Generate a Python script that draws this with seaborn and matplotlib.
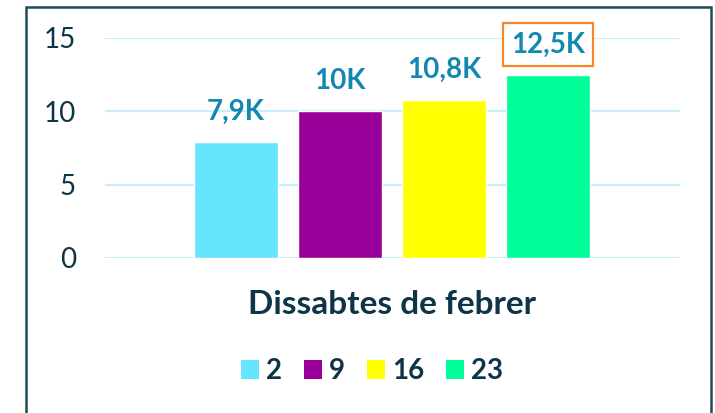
import matplotlib
matplotlib.use("Agg")
import matplotlib.pyplot as plt
from matplotlib.patches import Rectangle, Patch
import seaborn as sns
import pandas as pd

days = ["2", "9", "16", "23"]
visits = [7.9, 10.0, 10.8, 12.5]
labels = ["7,9K", "10K", "10,8K", "12,5K"]
colors = ["#66e5ff", "#990099", "#ffff00", "#00ff99"]
yticks = [0, 5, 10, 15]

sns.set_style("white")
plt.rcParams["font.family"] = ["Lato", "DejaVu Sans"]

DARK = "#0e3447"
LABEL_BLUE = "#1287b0"

fig = plt.figure(figsize=(7.15, 4.13), dpi=100)
ax = fig.add_axes([105 / 715, 1 - 258 / 413, 575 / 715, 220 / 413])

df = pd.DataFrame({"day": days, "visits": visits})
sns.barplot(data=df, x="day", y="visits", hue="day", palette=colors,
            saturation=1, width=0.8, dodge=False, legend=False, ax=ax, zorder=3)

ax.set_xlim(-1.26, 4.27)
ax.set_ylim(0, 15)
ax.set_yticks(yticks)
ax.set_yticklabels([str(t) for t in yticks], fontsize=20, color=DARK)
ax.tick_params(axis="y", length=0, pad=21)
ax.set_xticks([])
ax.set_xlabel("")
ax.set_ylabel("")
ax.grid(axis="y", color="#c8eefa", linewidth=1.5, zorder=0)
for s in ax.spines.values():
    s.set_visible(False)

# etiquetes de valor sobre cada barra; l'última amb marc taronja
for i, (v, t) in enumerate(zip(visits, labels)):
    box = None
    if i == len(visits) - 1:
        box = dict(boxstyle="square,pad=0.3", fc="white", ec="#f7882a", lw=1.6)
    ax.annotate(t, (i, v), xytext=(0, 30), textcoords="offset pixels",
                ha="center", va="center", fontsize=20, fontweight="bold",
                color=LABEL_BLUE, bbox=box, annotation_clip=False, zorder=5)

fig.text(392 / 715, 1 - 305 / 413, "Dissabtes de febrer", ha="center", va="center",
         fontsize=24, fontweight="bold", color=DARK)

handles = [Patch(facecolor=c, edgecolor="none") for c in colors]
fig.legend(handles, days, loc="center", bbox_to_anchor=(372 / 715, 1 - 371 / 413),
           ncol=4, frameon=False, prop={"size": 20, "weight": "bold"},
           handlelength=0.65, handleheight=0.65, handletextpad=0.25, columnspacing=0.8,
           labelcolor=DARK)

fig.patches.append(Rectangle((26 / 715, -0.05), 685 / 715, 1.05 - 7 / 413,
                             transform=fig.transFigure, fill=False,
                             edgecolor="#1f4a5c", linewidth=1.8))

fig.savefig("out.png", dpi=100)
